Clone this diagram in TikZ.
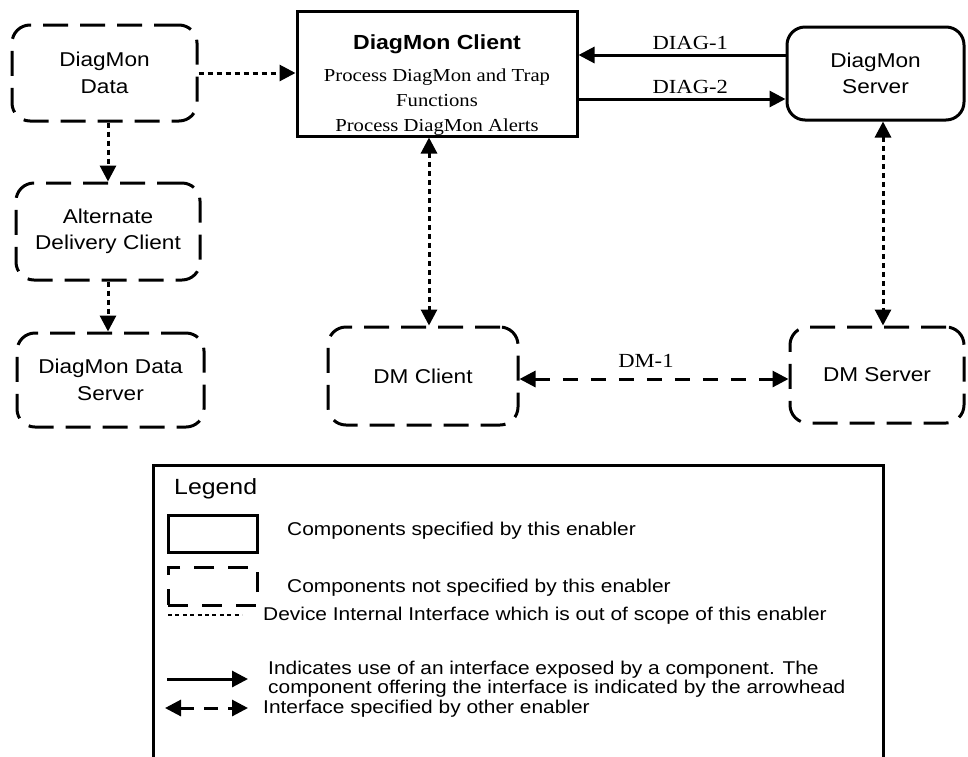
\documentclass[tikz,border=0pt]{standalone}
\usepackage{fontspec}
\setmainfont{Liberation Sans}[FakeStretch=1.13]
\newfontfamily\timesfont{Liberation Serif}[FakeStretch=1.13]
\usetikzlibrary{arrows.meta}
\tikzset{>={Triangle[length=16pt,width=16pt]}}
\tikzset{
  compbox/.style={draw, line width=3pt, rounded corners=18pt, inner sep=0pt, align=center, font=\fontsize{20}{26.5}\selectfont},
  otherbox/.style={compbox, dash pattern=on 25pt off 12pt},
  internal/.style={line width=3pt, dash pattern=on 5pt off 4pt},
  usage/.style={line width=3pt},
  otherif/.style={line width=3pt, dash pattern=on 15pt off 13pt},
  iflabel/.style={font=\timesfont\fontsize{20}{24}\selectfont},
  legendtext/.style={anchor=west, inner sep=0pt, align=left, font=\fontsize{18.5}{19.5}\selectfont}
}

\begin{document}
\begin{tikzpicture}[x=1pt, y=-1pt]
  \useasboundingbox (0,0) rectangle (968,756);

  \node[otherbox, minimum width=185pt, minimum height=96pt] (data) at (104.5,73) {DiagMon\\Data};
  \node[compbox, rounded corners=0pt, minimum width=280pt, minimum height=125pt] (client) at (437,73.5) {};
  \node[align=center, font=\timesfont\fontsize{18.3}{25}\selectfont] (clienttext) at ([yshift=-11.5pt]client.center)
    {{\normalfont\bfseries\fontsize{20.4}{24}\selectfont DiagMon Client}\\[7pt]Process DiagMon and Trap\\Functions\\Process DiagMon Alerts};
  \node[compbox, minimum width=177pt, minimum height=93pt] (server) at (875.5,73.5) {DiagMon\\Server};
  \node[otherbox, minimum width=184pt, minimum height=97pt] (alt) at (108,231.5) {Alternate\\Delivery Client};
  \node[otherbox, minimum width=187pt, minimum height=94pt] (dataserver) at (110.5,380) {DiagMon Data\\Server};
  \node[otherbox, minimum width=190pt, minimum height=98pt] (dmclient) at (423,376) {DM Client};
  \node[otherbox, minimum width=174pt, minimum height=96pt] (dmserver) at (877,375) {DM Server};

  \draw[internal, ->] (data.east) -- (data.east -| client.west);
  \draw[internal, ->] (alt.north |- data.south) -- (alt.north);
  \draw[internal, ->] (alt.south) -- (alt.south |- dataserver.north);
  \draw[internal, <->] ([xshift=6pt]dmclient.north |- client.south) -- ([xshift=6pt]dmclient.north);
  \draw[internal, <->] ([xshift=7.5pt]server.south) -- ([xshift=7.5pt]server.south |- dmserver.north);
  \draw[usage, ->] ([yshift=18.5pt]server.west) -- ([yshift=18.5pt]server.west -| client.east) node[iflabel, pos=0.46, above] {DIAG-1};
  \draw[usage, ->] ([yshift=-25.5pt]server.west -| client.east) -- ([yshift=-25.5pt]server.west) node[iflabel, pos=0.54, above] {DIAG-2};
  \draw[otherif, <->] ([yshift=-3pt]dmclient.east) -- ([yshift=-3pt]dmclient.east -| dmserver.west) node[iflabel, pos=0.47, above=7pt] {DM-1};

  \node[draw, line width=2.5pt, anchor=north west, inner sep=0pt, minimum width=730pt, minimum height=320pt] (legend) at (152,464) {};
  \node[anchor=west, inner sep=0pt, font=\fontsize{22}{24}\selectfont] (legendtitle) at (174,489) {Legend};
  \node[draw, line width=3pt, inner sep=0pt, minimum width=89pt, minimum height=37pt] (keyspec) at (212.5,533.5) {};
  \node[draw, line width=3pt, dash pattern=on 20pt off 14pt, inner sep=0pt, minimum width=89pt, minimum height=38pt] (keyother) at (212.5,586) {};
  \draw[line width=2.5pt, dash pattern=on 4pt off 3.4pt] (168,615) coordinate (keyinta) -- (242,615) coordinate (keyintb);
  \draw[usage, ->] (167,679) coordinate (keyusea) -- (248,679) coordinate (keyuseb);
  \draw[line width=3pt, dash pattern=on 14pt off 10pt, <->] (165,708) coordinate (keyotha) -- (248,708) coordinate (keyothb);
  \node[legendtext] (textspec) at (287,531) {Components specified by this enabler};
  \node[legendtext] (textother) at (287,588) {Components not specified by this enabler};
  \node[legendtext] (textint) at (263,616) {Device Internal Interface which is out of scope of this enabler};
  \node[legendtext] (textuse) at (268,679) {Indicates use of an interface exposed by a component. The\\component offering the interface is indicated by the arrowhead};
  \node[legendtext] (textoth) at (263,709) {Interface specified by other enabler};
\end{tikzpicture}
\end{document}
